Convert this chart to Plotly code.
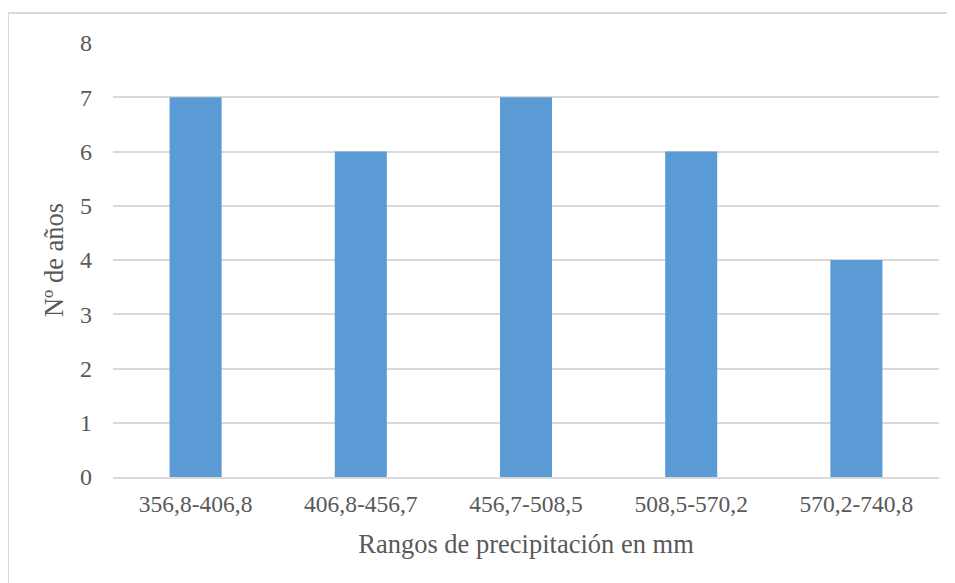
import plotly.graph_objects as go

categories = ["356,8-406,8", "406,8-456,7", "456,7-508,5", "508,5-570,2", "570,2-740,8"]
values = [7, 6, 7, 6, 4]
y_ticks = [0, 1, 2, 3, 4, 5, 6, 7, 8]

font_family = "Liberation Serif, Times New Roman, serif"
text_color = "#595959"
grid_color = "#D9D9D9"

fig = go.Figure(go.Bar(x=categories, y=values, marker=dict(color="#5B9BD5", line=dict(width=0))))

# page has an 8px body margin; figure placed at (8, 8)
W, H = 947, 575
L, R, T, B = 105, 16, 35, 106
pw = W - L - R
ph = H - T - B

fig.update_layout(
    width=W, height=H,
    margin=dict(l=L, r=R, t=T, b=B),
    paper_bgcolor="white", plot_bgcolor="white",
    bargap=0.685,
    showlegend=False,
    font=dict(family=font_family, color=text_color),
    xaxis=dict(
        title=dict(text="Rangos de precipitación en mm", font=dict(size=26.5, color=text_color), standoff=18),
        tickfont=dict(size=23.5, color=text_color),
        showgrid=False, showline=True, linecolor=grid_color, linewidth=2,
        ticks="", ticklabelstandoff=5,
    ),
    yaxis=dict(
        title=dict(text="Nº de años", font=dict(size=26.5, color=text_color), standoff=8),
        tickfont=dict(size=24, color=text_color),
        range=[0, 8], tickvals=y_ticks, showgrid=True, gridcolor=grid_color, gridwidth=2,
        zeroline=False, showline=False, ticks="", ticklabelstandoff=20,
    ),
    shapes=[
        dict(type="line", xref="paper", yref="paper",
             x0=(0 - L) / pw, x1=(0 - L) / pw, y0=-2, y1=1 + (T - 5) / ph,
             line=dict(color=grid_color, width=2)),
        dict(type="line", xref="paper", yref="paper",
             x0=(0 - L) / pw, x1=2, y0=1 + (T - 5) / ph, y1=1 + (T - 5) / ph,
             line=dict(color=grid_color, width=2)),
    ],
)

fig.write_html("out.html")
